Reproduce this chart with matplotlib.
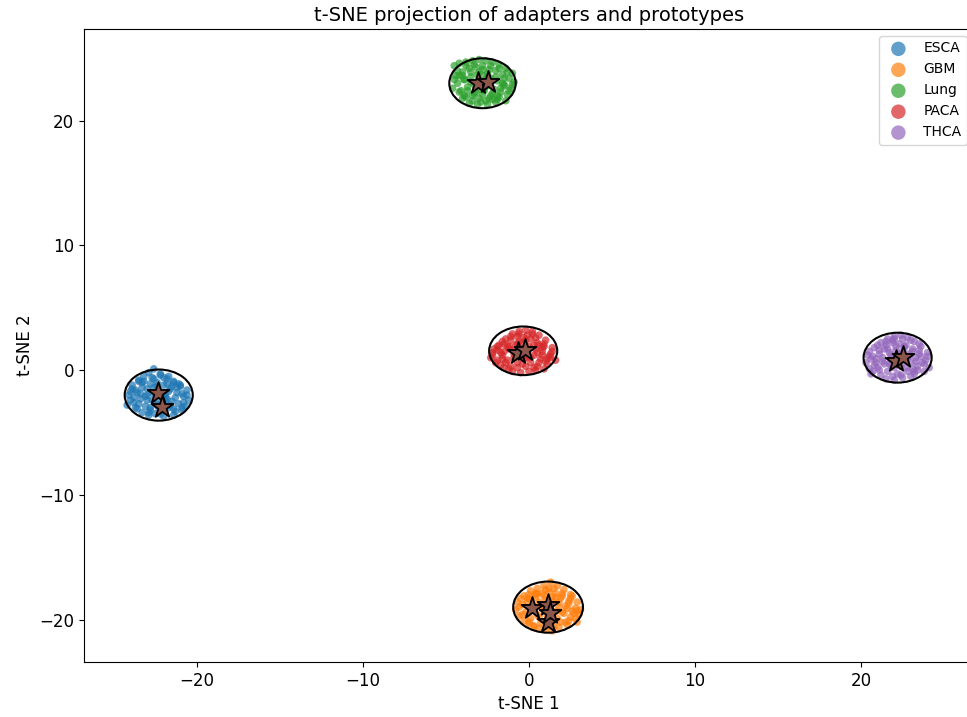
import matplotlib
matplotlib.use("Agg")
import matplotlib.pyplot as plt
from matplotlib.patches import Ellipse

categories = ["ESCA", "GBM", "Lung", "PACA", "THCA"]
colors = ["#1f77b4", "#ff7f0e", "#2ca02c", "#d62728", "#9467bd"]

esca_x = [-23.9,-23.5,-23.2,-22.9,-22.6,-22.2,-21.8,-21.4,-21.0,-20.6,
          -24.1,-23.7,-23.3,-22.8,-22.4,-22.0,-21.6,-21.2,-20.8,-20.5,
          -23.8,-23.4,-23.0,-22.7,-22.3,-21.9,-21.5,-21.1,-20.7,-24.2,
          -23.6,-23.1,-22.5,-22.1,-21.7,-21.3,-20.9,-23.9,-23.3,-22.9,
          -22.5,-22.0,-21.4,-20.9,-23.5,-22.7,-22.2,-21.7,-21.1,-22.8,
          -23.0,-22.4,-21.9,-21.5,-23.4,-22.6,-21.8,-22.3,-20.6,-24.0,
          -23.2,-22.6,-22.0,-21.4,-20.9,-23.6,-23.0,-22.4,-21.8,-21.2,
          -23.8,-23.1,-22.5,-21.9,-21.3,-20.8,-23.5,-22.8,-22.1,-21.6,
          -24.0,-23.3,-22.7,-22.0,-21.4,-22.9,-22.2,-21.7,-23.7,-21.0]
esca_y = [-1.2,-0.8,-0.5,-0.2,0.1,-0.4,-0.7,-0.9,-1.3,-1.6,
          -2.0,-1.6,-1.4,-1.1,-1.0,-1.2,-1.5,-1.8,-2.1,-2.4,
          -2.6,-2.3,-2.0,-1.8,-1.6,-2.2,-2.5,-2.7,-2.9,-2.8,
          -3.1,-2.9,-2.6,-2.4,-3.0,-3.3,-3.0,-1.5,-3.4,-3.6,
          -3.5,-3.7,-3.6,-3.2,-0.9,-0.6,-0.3,-0.5,-1.1,-3.2,
          -2.4,-2.8,-1.9,-1.3,-1.9,-1.4,-2.3,-3.0,-2.0,-2.4,
          -0.9,-0.7,-0.6,-1.0,-1.9,-1.8,-1.5,-1.3,-1.1,-1.4,
          -2.2,-2.1,-1.9,-2.5,-2.2,-2.6,-2.7,-3.0,-3.2,-2.8,
          -1.7,-1.0,-2.4,-2.0,-3.1,-3.4,-3.5,-1.7,-3.0,-1.2]

gbm_x = [-0.7,-0.3,0.1,0.5,0.9,1.3,1.7,2.1,2.5,2.9,
         -0.8,-0.4,0.0,0.4,0.8,1.2,1.6,2.0,2.4,2.8,
         -0.6,-0.2,0.2,0.6,1.0,1.4,1.8,2.2,2.6,3.0,
         -0.3,0.1,0.5,0.9,1.3,1.7,2.1,2.5,2.9,0.3,
         0.7,1.1,1.5,1.9,2.3,0.6,1.0,1.4,1.8,1.2,
         0.4,2.0,-0.1,2.7,0.8,1.6,1.2,3.1,0.0,2.4,
         -0.5,0.0,0.5,1.0,1.5,2.0,2.5,-0.6,-0.1,0.4,
         0.9,1.4,1.9,2.4,2.9,-0.4,0.2,0.8,1.3,1.8,
         2.3,2.8,0.0,0.6,1.1,1.7,2.2,0.3,1.5,2.6]
gbm_y = [-18.6,-18.1,-17.7,-17.5,-17.3,-17.0,-17.3,-17.6,-18.0,-18.6,
         -19.2,-18.8,-18.3,-18.0,-17.9,-17.8,-17.9,-18.1,-18.5,-19.1,
         -19.7,-19.4,-18.9,-18.6,-18.4,-18.5,-18.6,-18.9,-19.3,-19.6,
         -20.1,-19.9,-19.6,-19.1,-19.2,-19.3,-19.5,-19.8,-20.2,-20.5,
         -20.3,-20.0,-20.1,-20.2,-20.4,-20.7,-20.8,-20.9,-20.6,-17.5,
         -17.9,-19.4,-18.3,-19.5,-19.0,-18.2,-20.5,-19.2,-20.3,-20.1,
         -18.3,-18.0,-17.9,-17.6,-17.5,-17.9,-18.3,-19.0,-18.6,-18.2,
         -18.1,-18.2,-18.3,-18.7,-19.3,-19.6,-19.2,-18.8,-18.9,-19.0,
         -19.1,-19.9,-20.2,-19.8,-19.7,-19.9,-20.2,-20.6,-20.6,-18.1]

lung_x = [-4.5,-4.2,-3.8,-3.4,-3.0,-2.6,-2.2,-1.8,-1.4,-1.0,
          -4.4,-4.0,-3.6,-3.2,-2.8,-2.4,-2.0,-1.6,-1.2,-0.9,
          -4.3,-3.9,-3.5,-3.1,-2.7,-2.3,-1.9,-1.5,-1.1,-4.6,
          -4.1,-3.7,-3.3,-2.9,-2.5,-2.1,-1.7,-1.3,-3.8,-3.4,
          -3.0,-2.6,-2.2,-1.8,-3.6,-3.1,-2.5,-2.0,-4.0,-1.5,
          -3.3,-2.8,-2.3,-1.9,-3.9,-2.7,-4.2,-1.4,-3.0,-2.4,
          -4.3,-3.8,-3.3,-2.8,-2.3,-1.8,-1.3,-4.5,-4.0,-3.5,
          -3.0,-2.5,-2.0,-1.5,-1.0,-4.2,-3.7,-3.2,-2.7,-2.2,
          -1.7,-1.2,-3.9,-3.4,-2.9,-2.4,-1.9,-3.5,-2.6,-1.6]
lung_y = [24.4,24.6,24.7,24.8,24.9,24.8,24.7,24.5,24.2,23.8,
          23.6,23.9,24.2,24.3,24.4,24.1,24.0,23.7,23.4,23.1,
          23.0,23.3,23.5,23.7,23.6,23.4,23.2,22.9,22.6,22.6,
          22.4,22.7,22.9,22.5,22.8,22.5,22.3,22.1,21.9,22.0,
          21.8,21.6,21.7,21.9,21.4,21.3,21.3,21.5,21.8,22.8,
          22.2,22.1,22.0,21.7,23.3,22.6,23.6,21.6,23.1,23.0,
          24.0,24.4,24.5,24.1,24.4,24.2,23.9,23.3,23.6,23.9,
          23.9,23.8,23.5,23.4,22.9,22.3,22.4,22.3,22.4,22.2,
          22.6,22.4,22.0,21.6,21.5,21.8,22.0,23.1,23.3,23.0]

paca_x = [-2.2,-1.8,-1.4,-1.0,-0.6,-0.2,0.2,0.6,1.0,1.4,
          -2.3,-1.9,-1.5,-1.1,-0.7,-0.3,0.1,0.5,0.9,1.3,
          -2.0,-1.6,-1.2,-0.8,-0.4,0.0,0.4,0.8,1.2,1.6,
          -1.7,-1.3,-0.9,-0.5,-0.1,0.3,0.7,1.1,-1.5,-1.1,
          -0.7,-0.3,0.1,0.5,0.9,-1.0,-0.5,0.0,0.4,-0.8,
          -1.3,-0.2,0.6,-1.9,1.0,-0.6,0.2,-1.6,0.8,-0.4,
          -2.1,-1.6,-1.1,-0.6,-0.1,0.4,0.9,1.4,-2.2,-1.7,
          -1.2,-0.7,-0.2,0.3,0.8,1.3,-1.9,-1.4,-0.9,-0.4,
          0.1,0.6,1.1,-1.2,-0.7,-0.2,0.3,-1.5,0.5,-0.9]
paca_y = [1.4,2.0,2.5,2.9,3.1,3.2,3.1,2.8,2.4,1.8,
          1.0,1.6,2.1,2.4,2.7,2.6,2.5,2.2,1.9,1.3,
          0.6,1.2,1.7,2.0,2.2,1.9,1.7,1.5,1.1,0.8,
          0.4,0.8,1.3,1.7,1.4,1.2,0.9,0.5,0.2,0.3,
          0.6,0.9,0.6,0.3,0.1,-0.1,-0.2,-0.1,0.0,1.1,
          1.9,1.0,2.0,1.9,0.7,2.3,2.9,0.9,1.2,0.5,
          1.7,2.3,2.7,2.9,2.8,2.6,2.1,1.5,1.2,1.4,
          1.9,2.1,2.4,2.0,1.8,1.0,0.8,0.6,1.0,1.2,
          1.0,0.6,0.9,0.1,0.2,0.3,0.2,1.5,1.4,1.6]

thca_x = [20.4,20.8,21.2,21.6,22.0,22.4,22.8,23.2,23.6,24.0,
          20.3,20.7,21.1,21.5,21.9,22.3,22.7,23.1,23.5,23.9,
          20.5,20.9,21.3,21.7,22.1,22.5,22.9,23.3,23.7,24.1,
          20.6,21.0,21.4,21.8,22.2,22.6,23.0,23.4,23.8,21.2,
          21.6,22.0,22.4,22.8,23.2,21.5,22.0,22.5,23.0,21.8,
          22.3,22.9,20.9,23.5,21.4,22.6,21.9,23.1,22.2,20.7,
          20.5,21.0,21.5,22.0,22.5,23.0,23.5,24.0,20.6,21.1,
          21.6,22.1,22.6,23.1,23.6,20.8,21.3,21.8,22.3,22.8,
          23.3,23.8,21.1,21.7,22.2,22.7,23.2,21.9,22.4,23.4]
thca_y = [1.2,1.8,2.2,2.5,2.7,2.8,2.6,2.3,1.9,1.4,
          0.6,1.1,1.6,2.0,2.2,2.1,2.0,1.7,1.3,0.8,
          0.1,0.6,1.0,1.4,1.6,1.5,1.3,1.0,0.6,0.2,
          -0.3,0.2,0.5,0.9,1.1,0.8,0.6,0.3,-0.1,-0.4,
          -0.1,0.2,0.3,-0.1,-0.3,-0.7,-0.8,-0.6,-0.5,0.4,
          0.6,1.1,0.9,1.6,1.7,1.9,2.4,0.1,-0.3,-0.1,
          1.5,2.0,2.3,2.5,2.5,2.4,2.1,1.1,0.9,1.3,
          1.7,1.9,1.8,1.5,1.1,0.4,0.7,1.2,1.3,1.0,
          0.7,0.5,0.0,0.5,0.5,0.2,-0.1,-0.5,-0.4,0.0]

points_x = [esca_x, gbm_x, lung_x, paca_x, thca_x]
points_y = [esca_y, gbm_y, lung_y, paca_y, thca_y]

# ellipse centres and sizes (data units)
ell_cx = [-22.3, 1.15, -2.8, -0.35, 22.2]
ell_cy = [-2.0, -19.0, 23.0, 1.55, 1.0]
ell_w = [4.1, 4.2, 4.0, 4.1, 4.1]
ell_h = [4.1, 4.1, 4.0, 3.9, 4.0]

# prototypes
proto_x = [-22.37, -22.10, 0.16, 1.16, 1.16, 1.26, -3.05, -2.45, -0.64, -0.24, 22.12, 22.52]
proto_y = [-1.87, -2.99, -19.1, -18.8, -20.2, -19.5, 23.0, 23.1, 1.39, 1.58, 0.75, 1.07]

fig = plt.figure(figsize=(9.67, 7.17), dpi=100)
ax = fig.add_axes([84/967, 55/717, (974-84)/967, (662-29)/717])

for i, cat in enumerate(categories):
    ax.scatter(points_x[i], points_y[i], s=30, color=colors[i], alpha=0.7,
               edgecolors="none", label=cat, zorder=2)
for i in range(len(categories)):
    e = Ellipse((ell_cx[i], ell_cy[i]), ell_w[i], ell_h[i], fill=False,
                edgecolor="black", linewidth=1.5, zorder=3)
    ax.add_patch(e)
ax.scatter(proto_x, proto_y, marker="*", s=270, color="#8c564b",
           edgecolors="black", linewidths=1.3, zorder=4)

ax.set_xlim(-26.8, 26.8)
ax.set_ylim(-23.4, 27.35)
ax.set_xticks([-20, -10, 0, 10, 20])
ax.set_yticks([-20, -10, 0, 10, 20])
ax.tick_params(labelsize=12)
ax.set_xlabel("t-SNE 1", fontsize=12)
ax.set_ylabel("t-SNE 2", fontsize=12)
ax.set_title("t-SNE projection of adapters and prototypes", fontsize=14)
ax.legend(loc="upper right", fontsize=10, markerscale=1.9)

fig.savefig("out.png", dpi=100)
